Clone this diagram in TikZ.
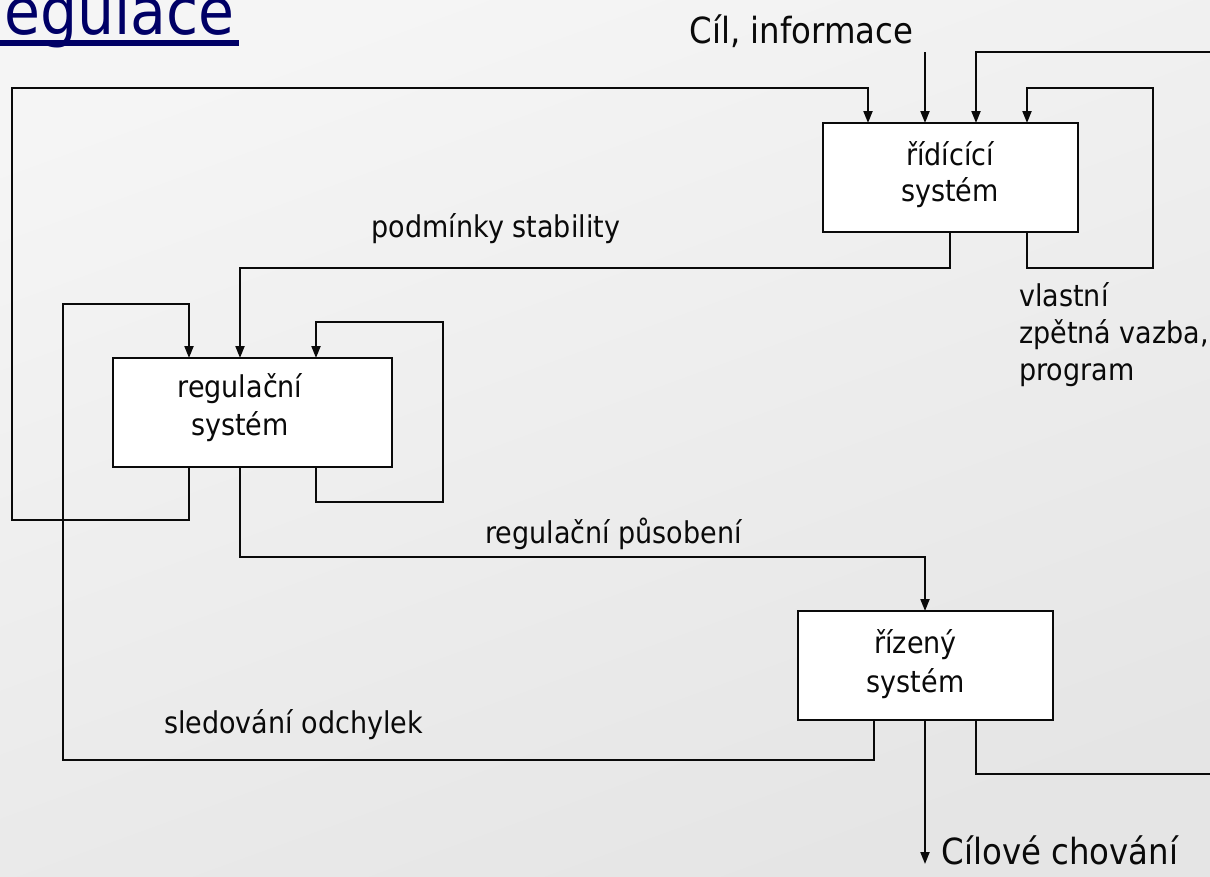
\documentclass[tikz,border=0pt]{standalone}
\usepackage{fontspec}
\setmainfont{DejaVu Sans}[FakeStretch=0.9]
\usetikzlibrary{arrows.meta}
\definecolor{bgtop}{RGB}{245,245,245}
\definecolor{bgbot}{RGB}{229,229,229}
\definecolor{titlecol}{RGB}{0,0,102}
\definecolor{ink}{RGB}{10,10,10}
\begin{document}
\begin{tikzpicture}[x=1pt,y=-1pt,
  box/.style={draw=ink, fill=white, line width=2.2pt, rectangle, outer sep=0pt, inner sep=0pt},
  conn/.style={draw=ink, line width=2pt},
  arr/.style={conn, -{Triangle[length=12pt,width=9pt]}},
  lbl/.style={font=\fontsize{30}{36}\selectfont, inner sep=0pt, anchor=base, text=ink},
  big/.style={font=\fontsize{36}{42}\selectfont, inner sep=0pt, anchor=base, text=ink},
  ttl/.style={font=\fontsize{65}{70}\selectfont, inner sep=0pt, anchor=base east, text=titlecol}]
\useasboundingbox (0,0) rectangle (1210,876);
\shade[top color=bgtop, bottom color=bgbot, shading angle=20] (0,0) rectangle (1210,876);

% title
\node[ttl] (title) at (235,34) {egulace};
\fill[titlecol] (-5,40) rectangle (239,46);

% column coordinates
\foreach \cx in {12,63,189,240,316,443,868,874,925,950,976,1027,1153}{
  \coordinate (c\cx) at (\cx,0);
}

% boxes
\node[box, minimum width=255pt, minimum height=109pt] (b1) at (950.5,177.5) {};
\node[box, minimum width=279pt, minimum height=109pt] (b2) at (252.5,412.5) {};
\node[box, minimum width=255pt, minimum height=109pt] (b3) at (925.5,665.5) {};

% box texts
\node[lbl] (t1a) at (950,165) {řídícící};
\node[lbl] (t1b) at (950,201) {systém};
\node[lbl] (t2a) at (240,397) {regulační};
\node[lbl] (t2b) at (240,435) {systém};
\node[lbl] (t3a) at (915.5,653) {řízený};
\node[lbl] (t3b) at (915.5,692) {systém};

% labels
\node[big] (cil) at (801.5,43) {Cíl, informace};
\node[lbl] (podm) at (496,237) {podmínky stability};
\node[lbl] (regp) at (613.5,543) {regulační působení};
\node[lbl] (sled) at (293.5,733) {sledování odchylek};
\node[lbl, anchor=base west] (vl1) at (1019,306) {vlastní};
\node[lbl, anchor=base west] (vl2) at (1019,343) {zpětná vazba,};
\node[lbl, anchor=base west] (vl3) at (1019,380) {program};
\node[big] (cilch) at (1060,864) {Cílové chování};

% free ends
\coordinate (cilin) at (925,52);
\coordinate (outend) at (925,864);

% connectors
\draw[arr] (cilin) -- (b1.north -| c925);
\draw[arr] (b3.south -| c976) -- (976,774) -- (1240,774) -- (1240,52) -- (976,52) -- (b1.north -| c976);
\draw[arr] (b1.south -| c1027) -- (1027,268) -- (1153,268) -- (1153,88) -- (1027,88) -- (b1.north -| c1027);
\draw[arr] (b1.south -| c950) -- (950,268) -- (240,268) -- (b2.north -| c240);
\draw[arr] (b2.south -| c189) -- (189,520) -- (12,520) -- (12,88) -- (868,88) -- (b1.north -| c868);
\draw[arr] (b2.south -| c316) -- (316,502) -- (443,502) -- (443,322) -- (316,322) -- (b2.north -| c316);
\draw[arr] (b3.south -| c874) -- (874,760) -- (63,760) -- (63,304) -- (189,304) -- (b2.north -| c189);
\draw[arr] (b2.south -| c240) -- (240,557) -- (925,557) -- (b3.north -| c925);
\draw[arr] (b3.south -| c925) -- (outend);
\end{tikzpicture}
\end{document}
